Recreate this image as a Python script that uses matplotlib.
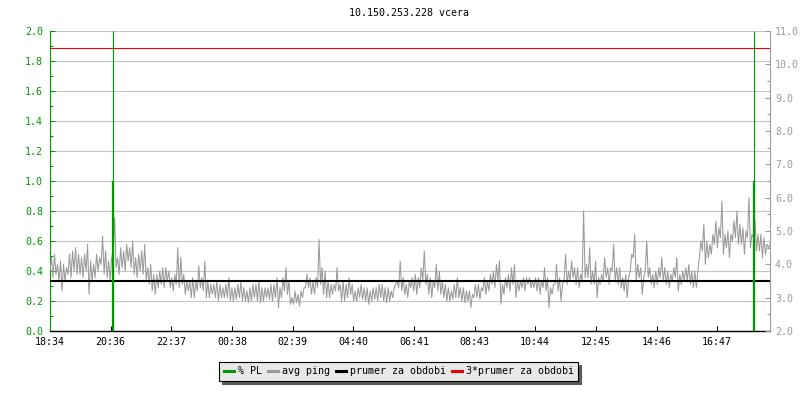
import matplotlib
matplotlib.use("Agg")
import matplotlib.pyplot as plt
import numpy as np
from matplotlib.lines import Line2D
from matplotlib.ticker import MultipleLocator, FixedLocator, FormatStrFormatter

# ---------------- data ----------------
title = "10.150.253.228 vcera"
time_labels = ["18:34", "20:36", "22:37", "00:38", "02:39", "04:40",
               "06:41", "08:43", "10:44", "12:45", "14:46", "16:47"]
tick_step_min = 121.3
span_min = 1440

# average ping [ms], right axis -- two readings per time bin
avg_ping_a = [
    3.8, 4.3, 3.7, 4.1, 3.2, 3.9, 4.3, 3.6, 4.5, 3.7, 4.2, 3.6, 4.6, 3.1, 4.0, 3.6, 4.2, 4.85, 3.7, 4.1,
    3.5, 5.4, 4.2, 4.5, 3.9, 4.6, 4.1, 4.7, 3.7, 4.3, 3.8, 4.6, 3.9, 3.4, 3.7, 3.1, 3.8, 3.4, 3.9, 3.5,
    3.3, 3.7, 4.5, 4.2, 3.4, 3.5, 3.2, 3.6, 3.0, 3.95, 3.3, 4.1, 3.0, 3.4, 3.1, 3.5, 2.9, 3.3, 3.0, 3.6,
    2.9, 3.3, 2.95, 3.5, 2.9, 3.2, 2.85, 3.4, 3.0, 3.5, 2.85, 3.3, 3.0, 3.4, 2.9, 3.6, 2.7, 3.6, 3.9, 3.1,
    3.0, 2.8, 3.1, 2.75, 3.3, 3.7, 3.3, 3.5, 3.1, 4.75, 3.4, 3.8, 3.0, 3.4, 3.1, 3.9, 3.2, 3.5, 2.9, 3.6,
    3.1, 3.2, 2.9, 3.4, 2.95, 3.3, 2.8, 3.3, 2.95, 3.4, 3.0, 3.3, 2.85, 3.2, 3.0, 3.4, 4.1, 3.2, 3.4, 3.0,
    3.3, 3.7, 3.1, 3.9, 4.4, 3.4, 3.6, 3.0, 4.0, 3.8, 3.1, 3.4, 2.9, 3.2, 2.95, 3.6, 3.0, 3.3, 2.85, 3.2,
    2.7, 3.4, 3.0, 3.3, 3.6, 3.1, 3.7, 3.4, 4.0, 4.1, 2.8, 3.6, 3.3, 3.9, 4.0, 3.0, 3.5, 3.3, 3.6, 3.4,
    3.5, 3.3, 3.6, 3.1, 3.9, 3.2, 2.7, 3.4, 4.0, 3.2, 2.9, 4.3, 3.4, 4.1, 3.6, 3.9, 3.3, 5.6, 3.6, 4.5,
    3.4, 4.1, 3.0, 3.7, 4.2, 3.6, 3.9, 4.6, 3.5, 3.9, 3.3, 3.7, 3.0, 4.3, 4.9, 4.0, 3.6, 3.1, 4.7, 3.6,
    3.7, 3.3, 3.9, 4.2, 3.5, 3.8, 3.3, 3.9, 4.2, 3.2, 3.8, 3.5, 4.0, 3.4, 3.8, 3.3, 4.7, 5.2, 4.0, 4.6,
    4.3, 5.3, 4.5, 5.9, 4.3, 5.0, 4.2, 5.3, 5.6, 4.6, 5.1, 4.3, 6.0, 4.9, 5.3, 4.4, 4.9, 4.2, 4.6, 4.5,
]
avg_ping_b = [
    4.2, 3.6, 4.0, 3.5, 4.0, 3.5, 3.7, 4.4, 3.8, 4.3, 3.7, 4.3, 3.8, 4.1, 3.5, 4.3, 3.8, 4.0, 4.4, 3.6,
    4.2, 4.4, 3.9, 3.7, 4.4, 3.8, 4.5, 3.9, 4.2, 3.6, 4.4, 3.7, 3.5, 4.0, 3.2, 3.7, 3.3, 3.9, 3.3, 3.8,
    3.6, 3.2, 3.4, 3.3, 3.7, 3.1, 3.5, 3.0, 3.5, 3.2, 3.6, 3.2, 3.5, 3.0, 3.4, 3.0, 3.4, 3.0, 3.4, 3.0,
    3.3, 2.9, 3.4, 3.0, 3.3, 2.9, 3.3, 2.9, 3.4, 2.9, 3.3, 2.9, 3.3, 2.95, 3.4, 3.0, 3.3, 3.0, 3.2, 3.5,
    2.8, 3.2, 2.85, 3.2, 3.0, 3.3, 3.6, 3.1, 3.6, 3.3, 3.9, 3.1, 3.5, 3.0, 3.4, 3.2, 3.4, 2.9, 3.4, 3.0,
    3.4, 2.9, 3.3, 3.0, 3.3, 2.9, 3.2, 2.9, 3.3, 2.9, 3.4, 2.9, 3.3, 2.9, 3.3, 3.5, 3.3, 3.6, 3.1, 3.5,
    3.6, 3.2, 3.6, 3.3, 3.5, 3.7, 3.1, 3.5, 3.3, 3.2, 3.5, 3.0, 3.3, 2.9, 3.4, 3.0, 3.3, 2.9, 3.2, 2.9,
    3.1, 3.0, 3.4, 2.95, 3.2, 3.5, 3.2, 3.8, 3.3, 3.5, 3.4, 3.1, 3.7, 3.2, 3.4, 3.5, 3.2, 3.6, 3.2, 3.6,
    3.3, 3.6, 3.2, 3.5, 3.3, 3.6, 3.3, 3.1, 3.4, 3.6, 3.4, 3.5, 3.8, 3.5, 3.9, 3.4, 3.7, 3.5, 4.0, 3.6,
    3.8, 3.4, 3.6, 3.4, 3.5, 3.9, 3.4, 3.8, 3.9, 3.4, 3.6, 3.2, 3.6, 3.8, 4.2, 3.5, 3.9, 3.6, 3.8, 3.9,
    3.4, 3.8, 3.4, 3.6, 3.9, 3.4, 3.7, 3.5, 3.6, 3.7, 3.4, 3.9, 3.5, 3.8, 3.3, 3.8, 4.2, 4.4, 4.7, 4.2,
    4.9, 4.6, 5.1, 4.8, 4.9, 4.5, 4.9, 4.7, 4.8, 5.2, 4.6, 5.0, 4.8, 4.5, 4.8, 4.9, 4.4, 4.8, 4.3, 4.6,
]

# packet loss events [minutes from start], value [%]
pl_times = [126, 1408]
pl_values = [1.0, 1.0]

period_mean_ms = 3.5
triple_mean_ms = 10.5

legend_labels = ["% PL", "avg ping", "prumer za obdobi", "3*prumer za obdobi"]

# ---------------- style ----------------
GREEN = "#009900"
GRAY = "#9a9a9a"
GRID = "#c4c4c4"
FONT = "DejaVu Sans Mono"
FS = 7.2
plt.rcParams["font.family"] = FONT

fig = plt.figure(figsize=(8, 4), dpi=100)
pos = [50 / 800, 69 / 400, 720 / 800, 300 / 400]
ax = fig.add_axes(pos)
ax2 = ax.twinx()
ax3 = fig.add_axes(pos, sharex=ax, sharey=ax)
ax3.set_axis_off()
ax3.patch.set_visible(False)
ax3.set_zorder(5)

ax.set_xlim(0, span_min)
ax.set_ylim(0, 2)
ax2.set_ylim(2, 11)

# grid under everything
ax.yaxis.grid(True, which="major", color=GRID, lw=0.8)
ax.set_axisbelow(True)

# ping: each time bin drawn as a stroke from its lower to its higher reading
lo = np.minimum(avg_ping_a, avg_ping_b)
hi = np.maximum(avg_ping_a, avg_ping_b)
ping = np.column_stack([lo, hi]).ravel()
t = np.linspace(0, span_min, len(ping))
ax2.plot(t, ping, color=GRAY, lw=0.75, zorder=2)
ax2.axhline(period_mean_ms, color="black", lw=1.5, zorder=3)
ax2.axhline(triple_mean_ms, color="#ee0000", lw=0.8, zorder=3)

# packet loss
ax3.vlines(pl_times, 0, 2, color=GREEN, lw=0.8)
ax3.vlines(pl_times, 0, pl_values, color=GREEN, lw=1.6)

# x axis
ax.xaxis.set_major_locator(FixedLocator([i * tick_step_min for i in range(len(time_labels))]))
ax.set_xticklabels(time_labels)
ax.tick_params(axis="x", direction="in", length=3.6, width=0.8, color="black",
               labelcolor="black", labelsize=FS, pad=4.5)

# left axis
ax.yaxis.set_major_locator(MultipleLocator(0.2))
ax.yaxis.set_minor_locator(MultipleLocator(0.1))
ax.yaxis.set_major_formatter(FormatStrFormatter("%.1f"))
ax.tick_params(axis="y", which="major", direction="in", length=3.6, width=0.8,
               color=GREEN, labelcolor=GREEN, labelsize=FS, pad=5)
ax.tick_params(axis="y", which="minor", direction="in", length=2.2, width=0.8, color=GREEN)

# right axis
ax2.yaxis.set_major_locator(MultipleLocator(1.0))
ax2.yaxis.set_minor_locator(MultipleLocator(0.5))
ax2.yaxis.set_major_formatter(FormatStrFormatter("%.1f"))
ax2.tick_params(axis="y", which="major", direction="in", length=3.6, width=0.8,
                color=GRAY, labelcolor=GRAY, labelsize=FS, pad=3.6)
ax2.tick_params(axis="y", which="minor", direction="in", length=2.2, width=0.8, color=GRAY)

for s in ("top", "right"):
    ax.spines[s].set_visible(False)
for s in ("top", "left", "bottom"):
    ax2.spines[s].set_visible(False)
ax.spines["left"].set_color(GREEN)
ax.spines["left"].set_linewidth(0.8)
ax.spines["bottom"].set_color("black")
ax.spines["bottom"].set_linewidth(1.0)
ax2.spines["right"].set_color(GRAY)
ax2.spines["right"].set_linewidth(0.8)

fig.text(409 / 800, 1 - 13 / 400, title, ha="center", va="center", fontsize=FS, color="black")

handles = [Line2D([], [], color=c, lw=2.2) for c in (GREEN, GRAY, "black", "#ee0000")]
leg = fig.legend(handles, legend_labels, loc="center", bbox_to_anchor=(0.4983, 0.0717),
                 ncol=4, fontsize=FS, frameon=True, fancybox=False,
                 shadow={"color": "#5a5a5a", "alpha": 1},
                 facecolor="#e8e8e8", edgecolor="black", framealpha=1,
                 handlelength=1.0, handletextpad=0.4, columnspacing=0.6, borderpad=0.45)
leg.get_frame().set_linewidth(0.8)

fig.savefig("out.png", dpi=100)
